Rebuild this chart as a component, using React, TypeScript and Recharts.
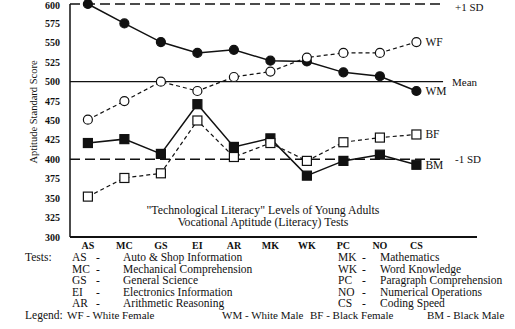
import React from 'react'
import { LineChart, Line, XAxis, YAxis, ReferenceLine, LabelList } from 'recharts'

const tests = ['AS', 'MC', 'GS', 'EI', 'AR', 'MK', 'WK', 'PC', 'NO', 'CS']
const wm = [600, 575, 551, 537, 541, 527, 526, 512, 507, 488]
const wf = [451, 475, 500, 488, 506, 513, 531, 537, 537, 551]
const bf = [352, 376, 382, 450, 403, 421, 398, 422, 428, 432]
const bm = [421, 426, 407, 471, 416, 427, 379, 398, 406, 393]
const yTicks = [300, 325, 350, 375, 400, 425, 450, 475, 500, 525, 550, 575, 600]

const leftTests = [
  ['AS', 'Auto & Shop Information'],
  ['MC', 'Mechanical Comprehension'],
  ['GS', 'General Science'],
  ['EI', 'Electronics Information'],
  ['AR', 'Arithmetic Reasoning'],
]
const rightTests = [
  ['MK', 'Mathematics'],
  ['WK', 'Word Knowledge'],
  ['PC', 'Paragraph Comprehension'],
  ['NO', 'Numerical Operations'],
  ['CS', 'Coding Speed'],
]
const legendItems = [
  ['WF - White Female', 67],
  ['WM - White Male', 222],
  ['BF - Black Female', 310],
  ['BM - Black Male', 427],
] as const

const data = tests.map((t, i) => ({ i, t, wm: wm[i], wf: wf[i], bf: bf[i], bm: bm[i] }))

const font = '"Liberation Serif", "Times New Roman", serif'
const ink = '#111'

const circleDot = (filled: boolean) => (p: any) => (
  <circle key={p.index} cx={p.cx} cy={p.cy} r={4.5} fill={filled ? ink : '#fff'} stroke={ink} strokeWidth={1.2} />
)
const squareDot = (filled: boolean) => (p: any) => (
  <rect key={p.index} x={p.cx - 4.5} y={p.cy - 4.5} width={9} height={9} fill={filled ? ink : '#fff'} stroke={ink} strokeWidth={1.2} />
)
const endLabel = (name: string) => (p: any) =>
  p.index === tests.length - 1 ? (
    <text x={p.x + 9} y={p.y + 4} fontSize={11.5} fontFamily={font} fill={ink}>
      {name}
    </text>
  ) : null

// label at the right end of a reference segment
const refLabel = (name: string, dx: number, minY = 0) => (p: any) => {
  const vb = p.viewBox || {}
  const y = Math.max(vb.y + 4, minY)
  return (
    <text x={vb.x + vb.width + dx} y={y} fontSize={11} fontFamily={font} fill={ink}>
      {name}
    </text>
  )
}

const text: React.CSSProperties = { position: 'absolute', fontFamily: font, fontSize: 11.5, color: ink, whiteSpace: 'pre', lineHeight: '12px' }

export default function App() {
  const lineEnd = 9.73
  return (
    <div style={{ position: 'absolute', left: 0, top: 0, width: 515, height: 329, background: '#fff' }}>
      <LineChart width={515} height={257} data={data} margin={{ top: 4, right: 38, left: 0, bottom: 0 }}>
        <XAxis
          type="number"
          dataKey="i"
          domain={[-0.49, 10.66]}
          ticks={[0, 1, 2, 3, 4, 5, 6, 7, 8, 9]}
          tickFormatter={(v: number) => tests[v]}
          tickLine={false}
          tickSize={0}
          tickMargin={5}
          height={20}
          axisLine={{ stroke: ink, strokeWidth: 2 }}
          tick={{ fontSize: 10, fill: ink, fontFamily: font, fontWeight: 'bold' }}
        />
        <YAxis
          domain={[300, 600]}
          ticks={yTicks}
          width={70}
          tickLine={false}
          tickSize={8}
          tickMargin={2}
          axisLine={{ stroke: ink, strokeWidth: 1.5 }}
          tick={{ fontSize: 10, fill: ink, fontFamily: font, fontWeight: 'bold' }}
        />
        <ReferenceLine
          segment={[{ x: -0.49, y: 600 }, { x: lineEnd, y: 600 }]}
          stroke={ink}
          strokeWidth={1.5}
          strokeDasharray="10 5"
          label={refLabel('+1 SD', 12, 11)}
        />
        <ReferenceLine
          segment={[{ x: -0.49, y: 500 }, { x: lineEnd, y: 500 }]}
          stroke={ink}
          strokeWidth={1.2}
          label={refLabel('Mean', 9)}
        />
        <ReferenceLine
          segment={[{ x: -0.49, y: 400 }, { x: lineEnd, y: 400 }]}
          stroke={ink}
          strokeWidth={1.5}
          strokeDasharray="10 5"
          label={refLabel('-1 SD', 12)}
        />
        <Line dataKey="wm" stroke={ink} strokeWidth={1.5} dot={circleDot(true)} isAnimationActive={false}>
          <LabelList dataKey="wm" content={endLabel('WM')} />
        </Line>
        <Line dataKey="wf" stroke={ink} strokeWidth={1.2} strokeDasharray="4 3" dot={circleDot(false)} isAnimationActive={false}>
          <LabelList dataKey="wf" content={endLabel('WF')} />
        </Line>
        <Line dataKey="bm" stroke={ink} strokeWidth={1.5} dot={squareDot(true)} isAnimationActive={false}>
          <LabelList dataKey="bm" content={endLabel('BM')} />
        </Line>
        <Line dataKey="bf" stroke={ink} strokeWidth={1.2} strokeDasharray="4 3" dot={squareDot(false)} isAnimationActive={false}>
          <LabelList dataKey="bf" content={endLabel('BF')} />
        </Line>
      </LineChart>

      <div
        style={{
          ...text,
          left: 34,
          top: 112,
          fontSize: 10.5,
          transform: 'translate(-50%, -50%) rotate(-90deg)',
        }}
      >
        Aptitude Standard Score
      </div>

      <div style={{ ...text, left: 263, top: 204, fontSize: 11.8, lineHeight: '12px', textAlign: 'center', transform: 'translateX(-50%)' }}>
        {'"Technological Literacy" Levels of Young Adults\nVocational Aptitude (Literacy) Tests'}
      </div>

      <div style={{ ...text, left: 25, top: 251 }}>Tests:</div>
      {leftTests.map(([code, name], k) => (
        <React.Fragment key={code}>
          <div style={{ ...text, left: 72, top: 251 + k * 11.5 }}>{code}</div>
          <div style={{ ...text, left: 96, top: 251 + k * 11.5 }}>-</div>
          <div style={{ ...text, left: 123, top: 251 + k * 11.5 }}>{name}</div>
        </React.Fragment>
      ))}
      {rightTests.map(([code, name], k) => (
        <React.Fragment key={code}>
          <div style={{ ...text, left: 338, top: 251 + k * 11.5 }}>{code}</div>
          <div style={{ ...text, left: 362, top: 251 + k * 11.5 }}>-</div>
          <div style={{ ...text, left: 380, top: 251 + k * 11.5 }}>{name}</div>
        </React.Fragment>
      ))}
      <div style={{ ...text, left: 25, top: 309 }}>Legend:</div>
      {legendItems.map(([label, x]) => (
        <div key={label} style={{ ...text, left: x, top: 309, fontSize: 11 }}>
          {label}
        </div>
      ))}
    </div>
  )
}
